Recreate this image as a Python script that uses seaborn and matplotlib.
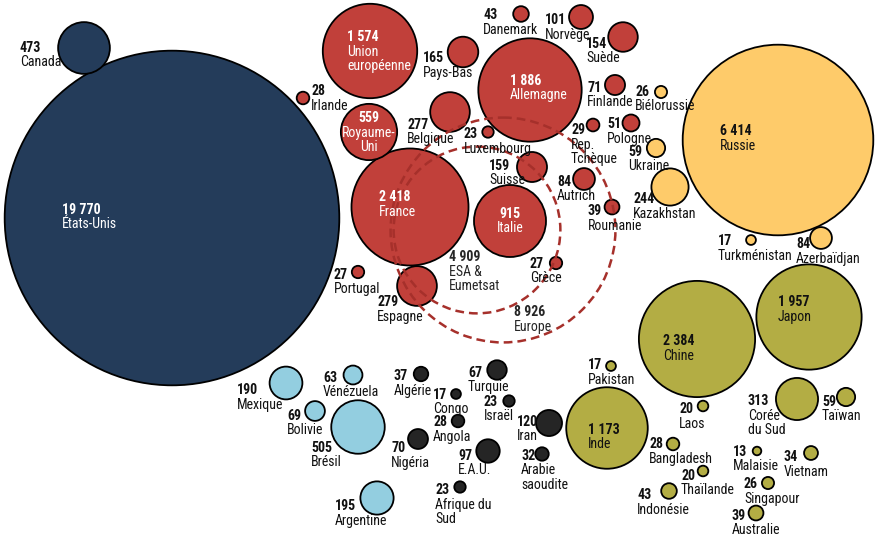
"""Bubble chart: space budgets by country (millions), recreated with seaborn."""

import matplotlib

matplotlib.use("Agg")
import matplotlib.pyplot as plt
from matplotlib.patches import Circle
import numpy as np
import pandas as pd
import seaborn as sns

# --- data -----------------------------------------------------------------
countries = [
    "États-Unis", "Canada",
    "Union\neuropéenne", "Pays-Bas", "Danemark", "Norvège", "Suède", "Irlande",
    "Allemagne", "Finlande", "Royaume-\nUni", "Belgique", "Luxembourg",
    "Rep.\nTchèque", "Pologne", "France", "Suisse", "Autrich", "Roumanie",
    "Italie", "Grèce", "Portugal", "Espagne",
    "Biélorussie", "Ukraine", "Kazakhstan", "Russie", "Turkménistan", "Azerbaïdjan",
    "Chine", "Japon", "Pakistan", "Inde", "Laos", "Corée\ndu Sud", "Taïwan",
    "Bangladesh", "Malaisie", "Vietnam", "Thaïlande", "Indonésie", "Singapour",
    "Australie",
    "Mexique", "Vénézuela", "Bolivie", "Brésil", "Argentine",
    "Algérie", "Congo", "Angola", "Nigéria", "Turquie", "Israël", "E.A.U.",
    "Afrique du\nSud", "Iran", "Arabie\nsaoudite",
]
values = [
    19770, 473,
    1574, 165, 43, 101, 154, 28,
    1886, 71, 559, 277, 23,
    29, 51, 2418, 159, 84, 39,
    915, 27, 27, 279,
    26, 59, 244, 6414, 17, 84,
    2384, 1957, 17, 1173, 20, 313, 59,
    28, 13, 34, 20, 43, 26,
    39,
    190, 63, 69, 505, 195,
    37, 17, 28, 70, 67, 23, 97,
    23, 120, 32,
]
regions = (
    ["amn"] * 2
    + ["eur"] * 21
    + ["cei"] * 6
    + ["asie"] * 14
    + ["ams"] * 5
    + ["afmo"] * 10
)

# European groupings drawn as dashed rings
groups = ["ESA &\nEumetsat", "Europe"]
group_values = [4909, 8926]

# --- layout (pixel positions of bubbles and their labels) -----------------
bubble_xy = {
    "États-Unis": (172, 218), "Canada": (84, 48),
    "Union\neuropéenne": (370, 51), "Pays-Bas": (463, 52), "Danemark": (521, 14),
    "Norvège": (581, 17), "Suède": (623, 37), "Irlande": (303, 98),
    "Allemagne": (530, 90), "Finlande": (615, 85), "Royaume-\nUni": (369, 132),
    "Belgique": (450, 112), "Luxembourg": (488, 132), "Rep.\nTchèque": (593, 125),
    "Pologne": (631, 123), "France": (410, 207), "Suisse": (532, 167),
    "Autrich": (584, 179), "Roumanie": (612, 207), "Italie": (510, 221),
    "Grèce": (556, 263), "Portugal": (358, 272), "Espagne": (417, 286),
    "Biélorussie": (661, 92), "Ukraine": (656, 148), "Kazakhstan": (670, 187),
    "Russie": (778, 140), "Turkménistan": (751, 240), "Azerbaïdjan": (821, 238),
    "Chine": (697, 339), "Japon": (809, 317), "Pakistan": (611, 366),
    "Inde": (607, 428), "Laos": (703, 406), "Corée\ndu Sud": (797, 399),
    "Taïwan": (846, 397), "Bangladesh": (673, 444), "Malaisie": (757, 451),
    "Vietnam": (811, 453), "Thaïlande": (703, 471), "Indonésie": (669, 491),
    "Singapour": (768, 483), "Australie": (756, 513),
    "Mexique": (286, 383), "Vénézuela": (353, 375), "Bolivie": (315, 411),
    "Brésil": (358, 427), "Argentine": (377, 498),
    "Algérie": (421, 374), "Congo": (456, 394), "Angola": (458, 421),
    "Nigéria": (418, 439), "Turquie": (497, 370), "Israël": (509, 401),
    "E.A.U.": (488, 451), "Afrique du\nSud": (460, 487), "Iran": (549, 423),
    "Arabie\nsaoudite": (542, 454),
}
group_xy = {"ESA &\nEumetsat": (477, 230), "Europe": (503, 230)}

# label anchor: (x of first line, y centre of first line, alignment)
label_xy = {
    "États-Unis": (62, 210, "left"), "Canada": (20, 48, "left"),
    "Union\neuropéenne": (347, 37, "left"), "Pays-Bas": (423, 58, "left"),
    "Danemark": (483, 15, "left"), "Norvège": (545, 20, "left"),
    "Suède": (586, 44, "left"), "Irlande": (311, 91, "left"),
    "Allemagne": (510, 81, "left"), "Finlande": (587, 88, "left"),
    "Royaume-\nUni": (369, 118, "center"), "Belgique": (407, 125, "left"),
    "Luxembourg": (464, 134, "left"), "Rep.\nTchèque": (571, 130, "left"),
    "Pologne": (607, 124, "left"), "France": (379, 197, "left"),
    "Suisse": (489, 166, "left"), "Autrich": (557, 182, "left"),
    "Roumanie": (588, 211, "left"), "Italie": (510, 214, "center"),
    "Grèce": (530, 264, "left"), "Portugal": (334, 275, "left"),
    "Espagne": (377, 302, "left"),
    "Biélorussie": (635, 92, "left"), "Ukraine": (628, 152, "left"),
    "Kazakhstan": (633, 199, "left"), "Russie": (720, 131, "left"),
    "Turkménistan": (718, 241, "left"), "Azerbaïdjan": (796, 244, "left"),
    "Chine": (663, 341, "left"), "Japon": (778, 302, "left"),
    "Pakistan": (588, 365, "left"), "Inde": (588, 430, "left"),
    "Laos": (679, 409, "left"), "Corée\ndu Sud": (748, 401, "left"),
    "Taïwan": (822, 402, "left"), "Bangladesh": (649, 444, "left"),
    "Malaisie": (733, 452, "left"), "Vietnam": (784, 457, "left"),
    "Thaïlande": (681, 476, "left"), "Indonésie": (637, 495, "left"),
    "Singapour": (744, 484, "left"), "Australie": (732, 516, "left"),
    "Mexique": (237, 390, "left"), "Vénézuela": (323, 378, "left"),
    "Bolivie": (287, 416, "left"), "Brésil": (311, 448, "left"),
    "Argentine": (335, 506, "left"),
    "Algérie": (394, 376, "left"), "Congo": (433, 395, "left"),
    "Angola": (433, 422, "left"), "Nigéria": (391, 448, "left"),
    "Turquie": (468, 373, "left"), "Israël": (484, 402, "left"),
    "E.A.U.": (458, 456, "left"), "Afrique du\nSud": (435, 490, "left"),
    "Iran": (517, 422, "left"), "Arabie\nsaoudite": (521, 456, "left"),
}
group_label_xy = {"ESA &\nEumetsat": (449, 257), "Europe": (514, 312)}

white_labels = {"États-Unis", "Union\neuropéenne", "Allemagne", "Royaume-\nUni",
                "France", "Italie"}

palette = {
    "amn": "#243c5a",
    "eur": "#c1403a",
    "cei": "#fecb6a",
    "asie": "#b3ad44",
    "ams": "#93cee0",
    "afmo": "#252525",
}
ring_color = "#a6302b"

PX_PER_SQRT = 1.19      # bubble radius in px per sqrt(value)
DPI = 100
LINE = 14.5             # px between label lines
FS = 10
FONT = ["Roboto Condensed", "DejaVu Sans"]


def fmt(v: int) -> str:
    return f"{v:,}".replace(",", " ")


def main() -> None:
    sns.set_style("white")
    plt.rcParams["font.family"] = FONT

    df = pd.DataFrame({"country": countries, "value": values, "region": regions})
    df["x"] = [bubble_xy[c][0] for c in df["country"]]
    df["y"] = [bubble_xy[c][1] for c in df["country"]]
    df = df.sort_values("value", ascending=False)

    fig = plt.figure(figsize=(8.8, 5.41), dpi=DPI)
    ax = fig.add_axes([0, 0, 1, 1])
    ax.set_xlim(0, 880)
    ax.set_ylim(541, 0)
    ax.set_axis_off()

    # marker area (pt^2) proportional to value
    vmax = max(values)
    pt_per_px = 72 / DPI
    smax = (2 * PX_PER_SQRT * np.sqrt(vmax) * pt_per_px) ** 2
    sns.scatterplot(
        data=df, x="x", y="y", size="value", sizes=(0, smax), size_norm=(0, vmax),
        hue="region", palette=palette, edgecolor="black", linewidth=1.3,
        legend=False, ax=ax, zorder=2,
    )

    for g, v in zip(groups, group_values):
        cx, cy = group_xy[g]
        ax.add_patch(Circle((cx, cy), PX_PER_SQRT * np.sqrt(v), fill=False,
                            edgecolor=ring_color, lw=1.8, ls=(0, (3.5, 2)), zorder=3))
        lx, ly = group_label_xy[g]
        ax.text(lx, ly, fmt(v), fontsize=FS, fontweight="bold", va="center", zorder=4)
        for i, line in enumerate(g.split("\n")):
            ax.text(lx, ly + LINE * (i + 1), line, fontsize=FS, va="center", zorder=4)

    for c, v in zip(countries, values):
        lx, ly, ha = label_xy[c]
        color = "white" if c in white_labels else "#111111"
        ax.text(lx, ly, fmt(v), fontsize=FS, fontweight="bold", ha=ha, va="center",
                color=color, zorder=4)
        for i, line in enumerate(c.split("\n")):
            ax.text(lx, ly + LINE * (i + 1), line, fontsize=FS, ha=ha, va="center",
                    color=color, zorder=4)

    fig.savefig("out.png", dpi=DPI)
    plt.close(fig)


if __name__ == "__main__":
    main()
